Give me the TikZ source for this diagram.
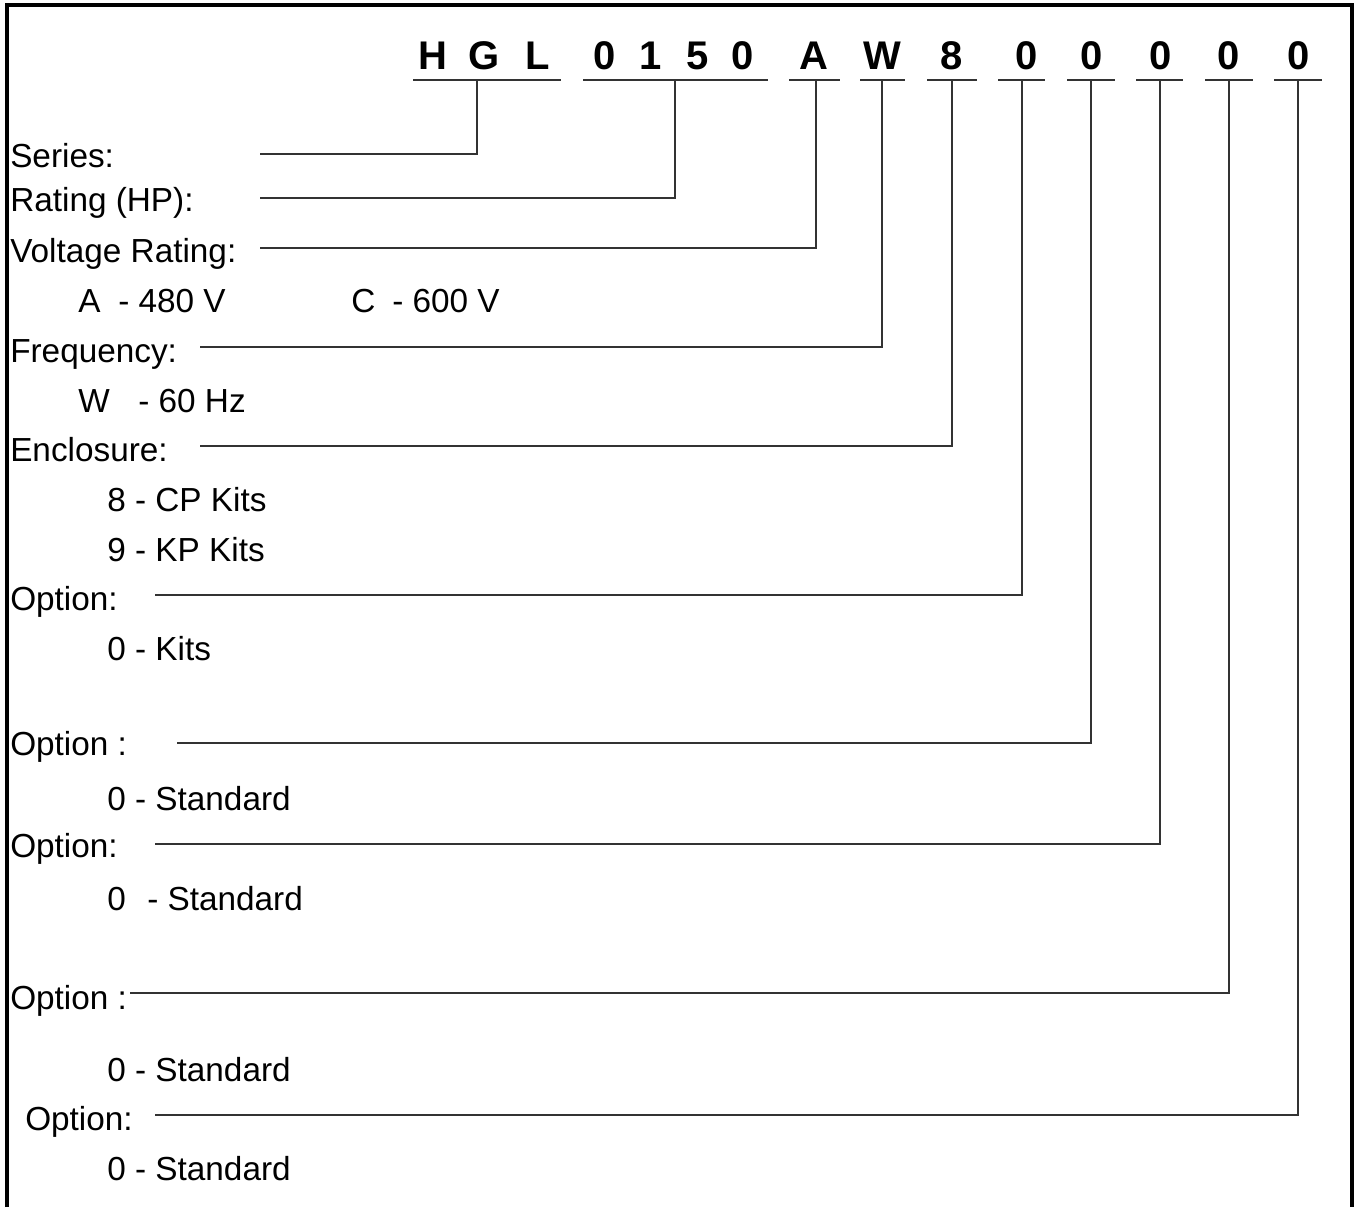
\documentclass[tikz,border=0pt]{standalone}
\usepackage{fontspec}
\setmainfont{Liberation Sans}
\begin{document}
\begin{tikzpicture}[x=0.75pt,y=-0.75pt,
 hdr/.style={font=\fontsize{30}{30}\selectfont\bfseries, anchor=base, inner sep=0pt},
 lbl/.style={font=\fontsize{25}{25}\selectfont, anchor=base west, inner sep=0pt},
 ln/.style={line width=1.2pt, draw=black!80},
 frame/.style={line width=2.3pt, draw=black}]
\useasboundingbox (0,0) rectangle (1360,1207);
\draw[frame] (7,1207) -- (7,5) -- (1352,5) -- (1352,1207);

% header characters
\node[hdr] (cH) at (433,69) {H};
\node[hdr] (cG) at (484,69) {G};
\node[hdr] (cL) at (538,69) {L};
\node[hdr] (r1) at (605,69) {0};
\node[hdr] (r2) at (651,69) {1};
\node[hdr] (r3) at (698,69) {5};
\node[hdr] (r4) at (743,69) {0};
\node[hdr] (cA) at (814,69) {A};
\node[hdr] (cW) at (882,69) {W};
\node[hdr] (c8) at (952,69) {8};
\node[hdr] (o1) at (1027,69) {0};
\node[hdr] (o2) at (1092,69) {0};
\node[hdr] (o3) at (1161,69) {0};
\node[hdr] (o4) at (1229,69) {0};
\node[hdr] (o5) at (1299,69) {0};

% underlines
\draw[ln] (413,80) -- (561,80);
\draw[ln] (583,80) -- (768,80);
\draw[ln] (789,80) -- (840,80);
\draw[ln] (860,80) -- (905,80);
\draw[ln] (927,80) -- (977,80);
\draw[ln] (998,80) -- (1045,80);
\draw[ln] (1067,80) -- (1115,80);
\draw[ln] (1136,80) -- (1183,80);
\draw[ln] (1205,80) -- (1253,80);
\draw[ln] (1274,80) -- (1322,80);

\coordinate (u1) at (477,80);
\coordinate (u2) at (675,80);
\coordinate (u3) at (816,80);
\coordinate (u4) at (882,80);
\coordinate (u5) at (952,80);
\coordinate (u6) at (1022,80);
\coordinate (u7) at (1091,80);
\coordinate (u8) at (1160,80);
\coordinate (u9) at (1229,80);
\coordinate (u10) at (1298,80);

% labels
\node[lbl] (lSeries) at (10,167) {Series:};
\node[lbl] (lRating) at (10,211) {Rating (HP):};
\node[lbl] (lVolt) at (10,262) {Voltage Rating:};
\node[lbl] (vA) at (78,312) {A};
\node[lbl] (vA2) at (118,312) {- 480 V};
\node[lbl] (vC) at (351,312) {C};
\node[lbl] (vC2) at (392,312) {- 600 V};
\node[lbl] (lFreq) at (10,362) {Frequency:};
\node[lbl] (fW) at (78,412) {W};
\node[lbl] (fW2) at (138,412) {- 60 Hz};
\node[lbl] (lEncl) at (10,461) {Enclosure:};
\node[lbl] (e8) at (107,511) {8 - CP Kits};
\node[lbl] (e9) at (107,561) {9 - KP Kits};
\node[lbl] (lOpt1) at (10,610) {Option:};
\node[lbl] (k0) at (107,660) {0 - Kits};
\node[lbl] (lOpt2) at (10,755) {Option :};
\node[lbl] (s1) at (107,810) {0 - Standard};
\node[lbl] (lOpt3) at (10,857) {Option:};
\node[lbl] (s2a) at (107,910) {0};
\node[lbl] (s2b) at (147,910) {- Standard};
\node[lbl] (lOpt4) at (10,1009) {Option :};
\node[lbl] (s3) at (107,1081) {0 - Standard};
\node[lbl] (lOpt5) at (25,1130) {Option:};
\node[lbl] (s4) at (107,1180) {0 - Standard};

% connector start points
\coordinate (a1) at (260,154);
\coordinate (a2) at (260,198);
\coordinate (a3) at (260,248);
\coordinate (a4) at (200,347);
\coordinate (a5) at (200,446);
\coordinate (a6) at (155,595);
\coordinate (a7) at (177,743);
\coordinate (a8) at (155,844);
\coordinate (a9) at (130,993);
\coordinate (a10) at (155,1115);

\draw[ln] (a1) -| (u1);
\draw[ln] (a2) -| (u2);
\draw[ln] (a3) -| (u3);
\draw[ln] (a4) -| (u4);
\draw[ln] (a5) -| (u5);
\draw[ln] (a6) -| (u6);
\draw[ln] (a7) -| (u7);
\draw[ln] (a8) -| (u8);
\draw[ln] (a9) -| (u9);
\draw[ln] (a10) -| (u10);
\end{tikzpicture}
\end{document}
